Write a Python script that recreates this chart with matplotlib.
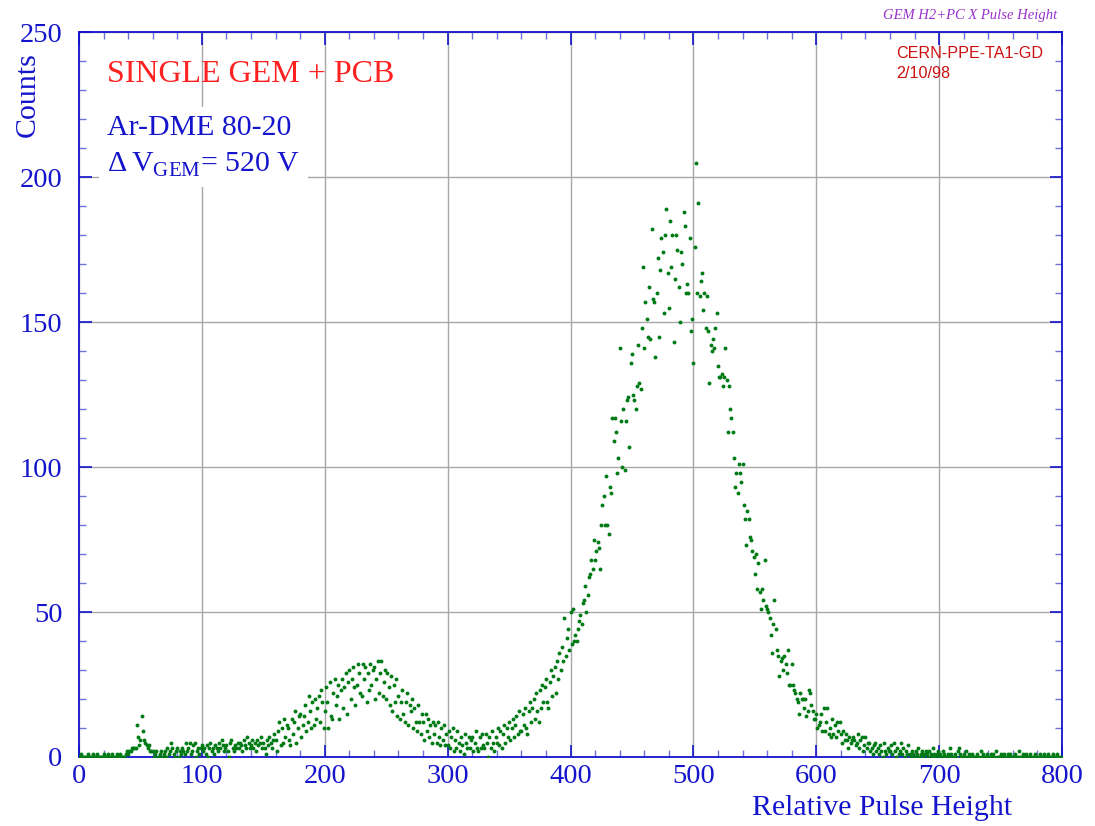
import numpy as np
import matplotlib.pyplot as plt
from matplotlib.ticker import MultipleLocator

# counts per channel (channel 0..799)
counts = [
    0, 0, 1, 0, 0, 0, 0, 1, 0, 0,   0, 1, 0, 0, 0, 1, 0, 0, 0, 0,
    1, 0, 0, 0, 1, 0, 0, 1, 0, 0,   0, 1, 0, 1, 0, 0, 0, 0, 1, 2,
    1, 2, 2, 3, 3, 3, 3, 11, 7, 4,  6, 14, 9, 6, 5, 4, 3, 4, 2, 2,
    2, 0, 1, 2, 0, 0, 1, 2, 0, 1,   2, 0, 3, 1, 2, 5, 3, 1, 0, 2,
    3, 0, 2, 1, 3, 2, 1, 5, 2, 3,   5, 1, 2, 4, 5, 0, 2, 3, 1, 3,
    4, 2, 3, 1, 4, 0, 3, 5, 2, 3,   1, 4, 3, 2, 5, 3, 6, 4, 2, 3,
    4, 2, 0, 5, 6, 3, 2, 4, 3, 5,   3, 5, 4, 2, 6, 4, 3, 7, 5, 3,
    4, 6, 3, 5, 2, 6, 4, 5, 7, 3,   5, 3, 1, 6, 4, 7, 5, 3, 6, 8,
    6, 2, 9, 12, 4, 10, 5, 13, 7, 11,  10, 6, 4, 13, 8, 12, 16, 5, 10, 14,
    15, 7, 11, 14, 18, 9, 12, 21, 16, 10,  19, 11, 20, 13, 17, 21, 12, 23, 19, 10,
    16, 24, 19, 10, 26, 14, 13, 22, 27, 18,  21, 25, 13, 23, 27, 17, 24, 29, 15, 26,
    30, 20, 27, 31, 24, 18, 25, 32, 29, 22,  21, 32, 27, 31, 19, 29, 23, 32, 25, 30,
    31, 20, 27, 33, 22, 29, 33, 21, 26, 30,  20, 29, 24, 18, 28, 16, 25, 19, 27, 14,
    21, 13, 19, 23, 15, 12, 19, 22, 11, 18,  16, 20, 10, 17, 12, 9, 18, 12, 8, 15,
    12, 6, 15, 9, 13, 7, 11, 5, 12, 8,  11, 5, 12, 7, 4, 10, 6, 11, 4, 8,
    4, 9, 3, 7, 10, 2, 6, 3, 9, 5,   2, 7, 4, 1, 8, 5, 3, 7, 3, 6,
    7, 2, 5, 9, 3, 2, 7, 3, 8, 4,   3, 8, 5, 0, 7, 3, 9, 5, 2, 7,
    5, 10, 4, 9, 3, 8, 11, 5, 10, 7,  12, 6, 10, 13, 7, 11, 14, 8, 16, 9,
    9, 15, 11, 17, 10, 8, 16, 19, 12, 17,  20, 13, 22, 16, 12, 23, 17, 25, 19, 24,
    27, 19, 17, 26, 30, 21, 28, 31, 22, 33,  27, 36, 30, 38, 33, 48, 35, 41, 44, 37,
    50, 39, 51, 40, 42, 40, 44, 47, 49, 46,  53, 54, 59, 50, 56, 62, 63, 68, 65, 75,
    68, 71, 74, 72, 65, 80, 87, 90, 80, 97,  80, 77, 93, 91, 117, 109, 117, 112, 98, 103,
    141, 116, 100, 120, 99, 116, 123, 124, 107, 136,  139, 125, 123, 120, 128, 142, 129, 127, 148, 169,
    141, 157, 151, 145, 162, 144, 182, 158, 157, 138,  160, 172, 145, 168, 179, 174, 153, 180, 189, 167,
    155, 185, 169, 180, 143, 165, 180, 175, 162, 150,  174, 170, 188, 183, 160, 163, 160, 179, 147, 151,
    136, 176, 205, 160, 191, 159, 164, 167, 154, 160,  148, 159, 147, 129, 142, 140, 144, 141, 148, 153,
    135, 131, 131, 132, 128, 131, 141, 130, 112, 128,  120, 117, 112, 103, 93, 98, 91, 101, 98, 95,
    101, 87, 82, 73, 85, 82, 76, 75, 71, 69,  63, 70, 58, 67, 57, 51, 58, 54, 68, 52,
    51, 50, 48, 42, 36, 46, 54, 44, 37, 35,  28, 33, 34, 30, 35, 32, 29, 37, 25, 25,
    32, 25, 23, 22, 20, 19, 15, 22, 20, 20,  17, 20, 14, 16, 23, 22, 18, 16, 13, 13,
    15, 10, 11, 12, 15, 9, 17, 9, 12, 17,   8, 10, 7, 13, 8, 11, 7, 12, 9, 12,
    8, 5, 9, 6, 8, 6, 3, 7, 5, 6,   7, 6, 4, 5, 8, 3, 6, 7, 2, 4,
    7, 3, 5, 5, 2, 3, 1, 4, 5, 2,   3, 1, 4, 2, 0, 5, 2, 1, 3, 2,
    2, 4, 1, 5, 2, 0, 3, 1, 2, 5,   1, 3, 0, 2, 1, 4, 1, 0, 2, 1,
    0, 2, 1, 3, 0, 1, 2, 0, 1, 2,   1, 0, 2, 1, 0, 3, 1, 0, 1, 2,
    0, 1, 0, 2, 1, 0, 0, 1, 0, 3,   1, 0, 0, 1, 0, 2, 3, 1, 0, 0,
    1, 0, 2, 0, 1, 0, 0, 1, 0, 0,   0, 1, 0, 0, 2, 0, 1, 0, 0, 1,
    0, 0, 1, 0, 1, 0, 2, 0, 0, 0,   1, 0, 0, 1, 0, 0, 1, 0, 1, 0,
    0, 0, 1, 0, 0, 2, 0, 0, 1, 0,   0, 1, 0, 0, 1, 0, 0, 0, 1, 0,
    0, 0, 1, 0, 0, 1, 0, 0, 0, 1,   0, 0, 0, 1, 0, 0, 1, 0, 0, 0,
]
channels = np.arange(len(counts))

blue = '#1414cc'
plt.rcParams['mathtext.fontset'] = 'custom'
plt.rcParams['mathtext.rm'] = 'Liberation Serif'

fig = plt.figure(figsize=(10.95, 8.26), dpi=100)
ax = fig.add_axes([79 / 1095, 1 - 757 / 826, (1062 - 79) / 1095, (757 - 32) / 826])

ax.plot(channels, counts, linestyle='none', marker='o', ms=2.8, color='#007a14',
        markeredgewidth=0, zorder=3)

ax.set_xlim(0, 800)
ax.set_ylim(0, 250)
ax.xaxis.set_major_locator(MultipleLocator(100))
ax.xaxis.set_minor_locator(MultipleLocator(20))
ax.yaxis.set_major_locator(MultipleLocator(50))
ax.yaxis.set_minor_locator(MultipleLocator(10))
ax.grid(True, which='major', color='#a8a8a8', lw=1.0, zorder=1)

for s in ax.spines.values():
    s.set_color(blue)
    s.set_linewidth(1.3)
ax.tick_params(which='both', direction='in', colors=blue, top=True, right=True,
               labelsize=20.5)
ax.tick_params(axis='y', pad=12)
ax.tick_params(axis='x', pad=5)
ax.tick_params(which='major', length=9, width=1.2)
ax.tick_params(which='minor', length=5, width=1.0, color='#7070e0')
for lab in ax.get_xticklabels() + ax.get_yticklabels():
    lab.set_family('Liberation Serif')
    lab.set_color(blue)

fig.text(28 / 1095, 1 - 95 / 826, 'Counts', rotation=90, ha='center', va='center',
         family='Liberation Serif', fontsize=21.5, color=blue)
fig.text(1012 / 1095, 1 - 808 / 826, 'Relative Pulse Height', ha='right', va='center',
         family='Liberation Serif', fontsize=21.5, color=blue)

# annotation block, white box hides the grid behind it
fig.text(107 / 1095, 1 - 75 / 826, 'SINGLE GEM + PCB', fontsize=23, color='#ff2020',
         family='Liberation Serif', va='center')
box = dict(facecolor='white', edgecolor='none', pad=6)
fig.text(107 / 1095, 1 - 128 / 826, 'Ar-DME 80-20', fontsize=21.5, color=blue,
         family='Liberation Serif', va='center', bbox=box)
fig.text(107 / 1095, 1 - 165 / 826, r'$\mathrm{\Delta\,V}_{\mathrm{GEM}}$= 520 V',
         fontsize=21.5, color=blue, family='Liberation Serif', va='center', bbox=box)

fig.text(1057 / 1095, 1 - 16 / 826, 'GEM H2+PC X Pulse Height', ha='right', va='center',
         family='Liberation Serif', style='italic', fontsize=10.5, color='#9933cc')
fig.text(896 / 1095, 1 - 53 / 826, 'CERN-PPE-TA1-GD', ha='left', va='center',
         family='Liberation Sans', fontsize=11.6, color='#cc1010')
fig.text(896 / 1095, 1 - 73 / 826, '2/10/98', ha='left', va='center',
         family='Liberation Sans', fontsize=11.6, color='#cc1010')

fig.savefig('out.png', dpi=100)
